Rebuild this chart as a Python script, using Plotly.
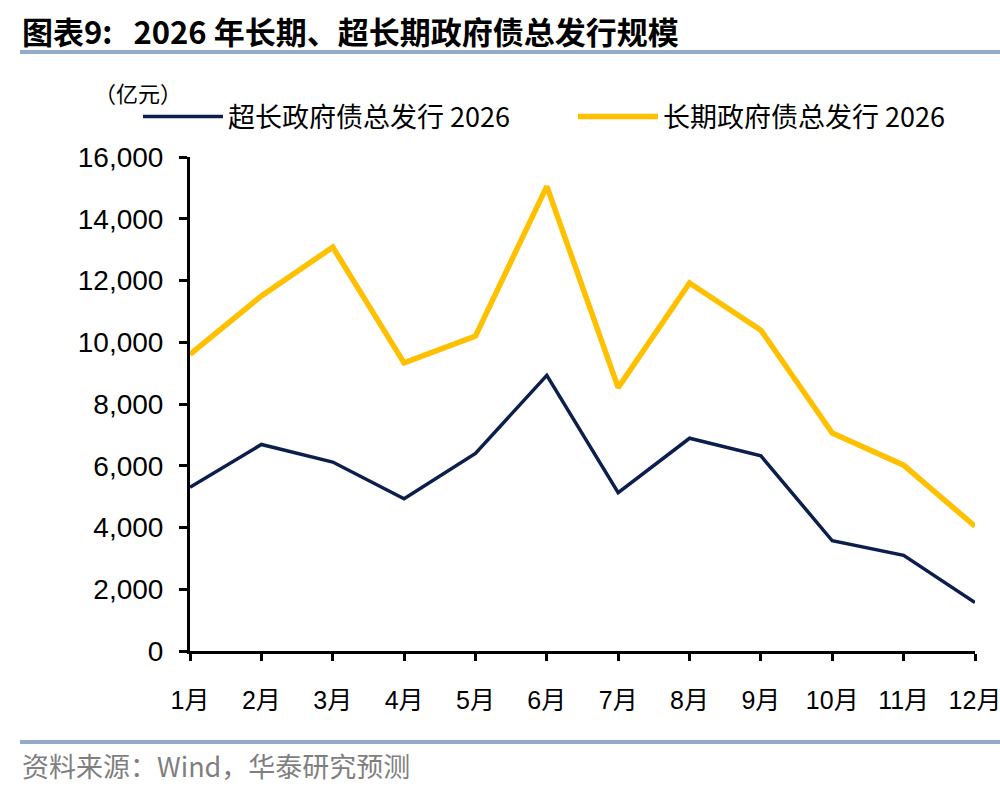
import plotly.graph_objects as go

months = ["1月", "2月", "3月", "4月", "5月", "6月", "7月", "8月", "9月", "10月", "11月", "12月"]
ultra_long = [5300, 6690, 6120, 4930, 6400, 8930, 5130, 6890, 6320, 3570, 3100, 1570]
long_term = [9610, 11500, 13080, 9330, 10200, 15050, 8530, 11920, 10390, 7060, 6020, 4040]
y_ticks = [0, 2000, 4000, 6000, 8000, 10000, 12000, 14000, 16000]

series_names = ["超长政府债总发行 2026", "长期政府债总发行 2026"]
title_text = "图表9:&nbsp;&nbsp;&nbsp;2026 年长期、超长期政府债总发行规模"
unit_text = "（亿元）"
source_text = "资料来源：Wind，华泰研究预测"

NAVY = "#0c1f4c"
GOLD = "#ffc000"
SEP = "#93aac9"
FONT = "Liberation Sans, Arial, Noto Sans CJK SC, sans-serif"
CJK = "Noto Sans CJK SC, Liberation Sans, sans-serif"

fig = go.Figure()
fig.add_trace(go.Scatter(x=months, y=ultra_long, mode="lines", name=series_names[0],
                         line=dict(color=NAVY, width=3.5)))
fig.add_trace(go.Scatter(x=months, y=long_term, mode="lines", name=series_names[1],
                         line=dict(color=GOLD, width=5.5)))

L, R, T, B = 190, 25, 157, 141
W, H = 1000, 792
pw = W - L - R
ph = H - T - B

def px(xp):
    return (xp - L) / pw

def py(yp):
    return (H - B - yp) / ph

fig.update_layout(
    width=W, height=H,
    margin=dict(l=L, r=R, t=T, b=B, autoexpand=False),
    paper_bgcolor="white", plot_bgcolor="white",
    font=dict(family=FONT, size=24, color="black"),
    showlegend=True,
    legend=dict(orientation="h", x=px(138), y=py(117), xanchor="left", yanchor="middle",
                font=dict(family=CJK, size=27, color="black"),
                entrywidth=340, entrywidthmode="pixels",
                bgcolor="rgba(0,0,0,0)", itemwidth=80, tracegroupgap=0),
    xaxis=dict(type="category", range=[0, 11], showgrid=False, zeroline=False,
               showline=True, linecolor="black", linewidth=3,
               ticks="outside", ticklen=7, tickwidth=2.5, tickcolor="black",
               tickfont=dict(family=FONT, size=25), ticklabelstandoff=18),
    yaxis=dict(range=[0, 16000], tickvals=y_ticks, tickformat=",d", showgrid=False,
               zeroline=False, showline=True, linecolor="black", linewidth=3,
               ticks="outside", ticklen=8, tickwidth=2.5, tickcolor="black",
               tickfont=dict(family=FONT, size=28), ticklabelstandoff=10),
    shapes=[
        dict(type="line", xref="paper", yref="paper", x0=px(20), x1=px(1000), y0=py(52), y1=py(52),
             line=dict(color=SEP, width=4)),
        dict(type="line", xref="paper", yref="paper", x0=px(20), x1=px(1000), y0=py(742), y1=py(742),
             line=dict(color=SEP, width=4)),
    ],
    annotations=[
        dict(text="<b>" + title_text + "</b>", xref="paper", yref="paper", x=px(20), y=py(31),
             xanchor="left", yanchor="middle", showarrow=False,
             font=dict(family=CJK, size=31, color="black")),
        dict(text=unit_text, xref="paper", yref="paper", x=px(92), y=py(92),
             xanchor="left", yanchor="middle", showarrow=False,
             font=dict(family=CJK, size=22, color="black")),
        dict(text=source_text, xref="paper", yref="paper", x=px(20), y=py(765),
             xanchor="left", yanchor="middle", showarrow=False,
             font=dict(family=CJK, size=27, color="#7f7f7f")),
    ],
)

fig.write_html("out.html", config={"displayModeBar": False},
               post_script="document.body.style.margin='0';document.body.style.padding='0';")
